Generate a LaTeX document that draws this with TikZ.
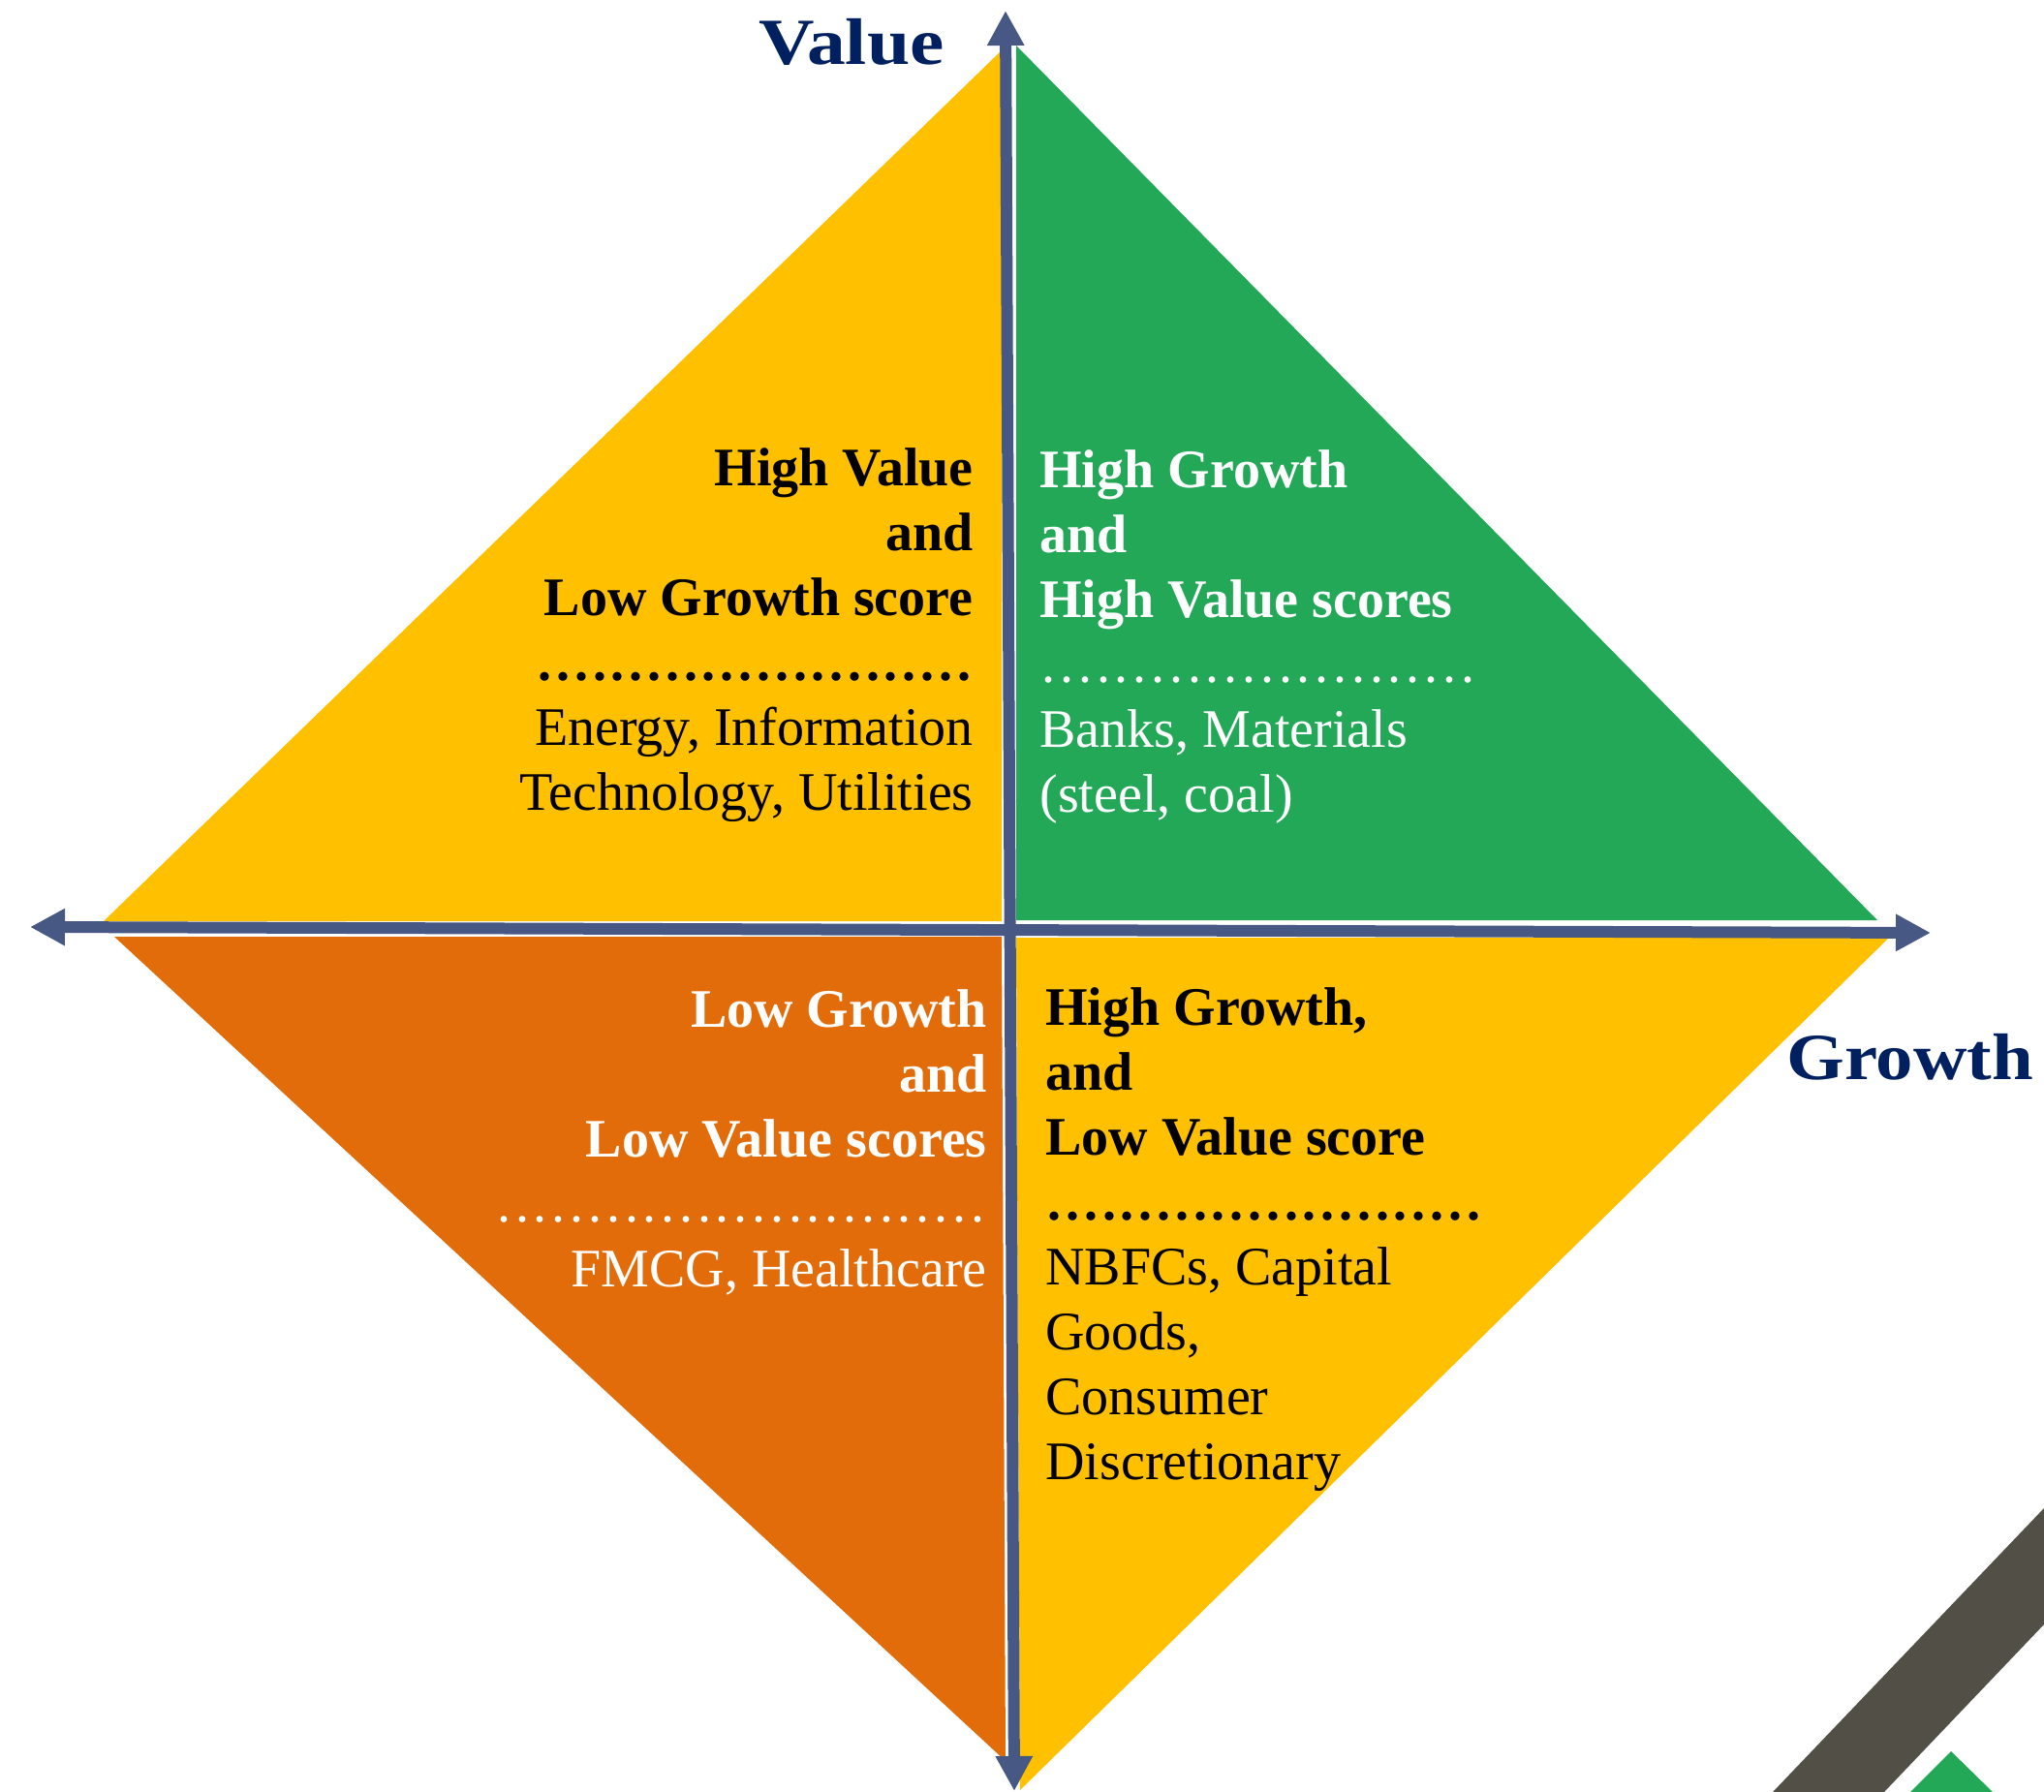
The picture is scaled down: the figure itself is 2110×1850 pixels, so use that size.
\documentclass[tikz,border=0pt]{standalone}
\usepackage{fontspec}
\setmainfont{Liberation Serif}
\usetikzlibrary{arrows.meta}
\definecolor{qyellow}{HTML}{FFC000}
\definecolor{qgreen}{HTML}{23A858}
\definecolor{qorange}{HTML}{E36C0A}
\definecolor{axisblue}{HTML}{475884}
\definecolor{navy}{HTML}{002060}
\definecolor{band}{HTML}{524F47}
\newcommand\dotrow[2]{\hbox to #1{\leaders\hbox to #2{\hss.\hss}\hfill}}
\tikzset{
  axisline/.style={line width=6pt, draw=axisblue, {Triangle[length=18pt,width=18pt]}-{Triangle[length=18pt,width=18pt]}},
  quadtext/.style={inner sep=0pt, font=\fontsize{28}{33.5}\selectfont},
  axislabel/.style={inner sep=0pt, text=navy, font=\fontsize{34}{40}\selectfont\bfseries}
}
\begin{document}
\begin{tikzpicture}[x=0.5pt,y=-0.5pt]
\useasboundingbox (0,0) rectangle (2110,1850);
% quadrants
\fill[qyellow] (107,951) -- (1034,52) -- (1034,951) -- cycle;
\fill[qgreen] (1049,47) -- (1049,950) -- (1938,950) -- cycle;
\fill[qorange] (118,967) -- (1034,967) -- (1038,1818) -- cycle;
\fill[qyellow] (1049,968) -- (1950,968) -- (1053,1848) -- cycle;
% decoration
\fill[band] (2110,1557) -- (1830,1850) -- (1945,1850) -- (2110,1677) -- cycle;
\fill[qgreen] (2014,1808) -- (1972,1850) -- (2057,1850) -- cycle;
% axes
\coordinate (L) at (31,957);
\coordinate (R) at (1993,963);
\coordinate (T) at (1038,11);
\coordinate (B) at (1047,1849);
\draw[axisline] (L) -- (R);
\draw[axisline] (B) -- (T);
% axis labels
\node[axislabel, anchor=base east] (vlab) at (975,67) {\scalebox{1.17}[1]{Value}};
\node[axislabel, anchor=base west] (glab) at (1844,1114) {\scalebox{1.13}[1]{Growth}};
% quadrant texts (anchored at the baseline of the last line)
\node[quadtext, anchor=base east, align=right, text=black] (tl) at (1005,836)
  {\textbf{High Value}\\\textbf{and}\\\textbf{Low Growth score}\\\textbf{\dotrow{225.6pt}{9.4pt}}\\Energy, Information\\Technology, Utilities};
\node[quadtext, anchor=base west, align=left, text=white] (tr) at (1073,838)
  {\textbf{High Growth}\\\textbf{and}\\\textbf{High Value scores}\\\dotrow{225.6pt}{9.4pt}\\Banks, Materials\\(steel, coal)};
\node[quadtext, anchor=base east, align=right, text=white] (bl) at (1019,1328)
  {\textbf{Low Growth}\\\textbf{and}\\\textbf{Low Value scores}\\\dotrow{253.8pt}{9.4pt}\\FMCG, Healthcare};
\node[quadtext, anchor=base west, align=left, text=black] (br) at (1079,1527)
  {\textbf{High Growth,}\\\textbf{and}\\\textbf{Low Value score}\\\textbf{\dotrow{225.6pt}{9.4pt}}\\NBFCs, Capital\\Goods,\\Consumer\\Discretionary};
\end{tikzpicture}
\end{document}
